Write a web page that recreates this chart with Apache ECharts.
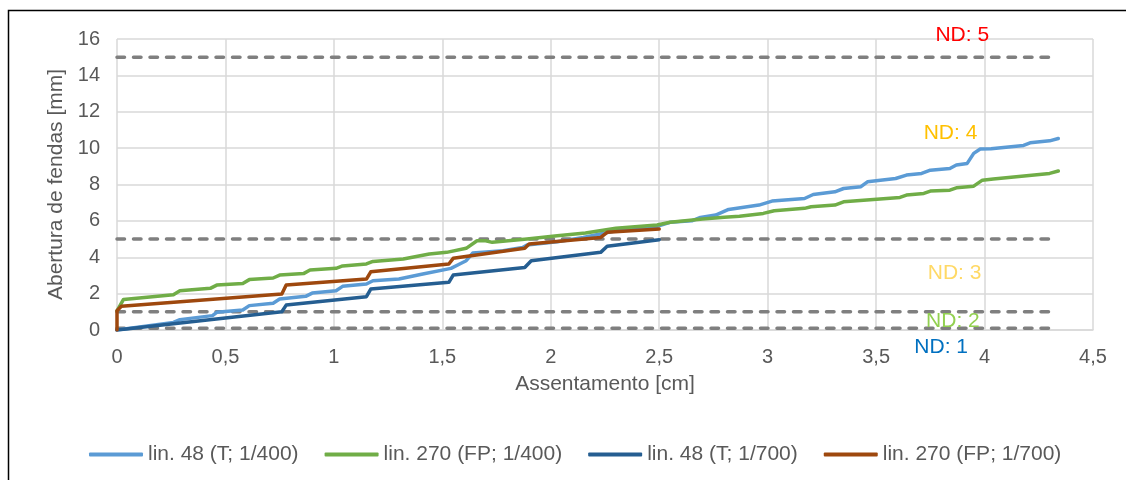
<!DOCTYPE html>
<html>
<head>
<meta charset="utf-8">
<script src="https://cdn.jsdelivr.net/npm/echarts@6/dist/echarts.min.js"></script>
<style>
  html, body { margin: 0; padding: 0; background: #fff; }
  #chart { width: 1126px; height: 480px; }
</style>
</head>
<body>
<div id="chart"></div>
<script>
// Crack width vs. settlement, four monitored lines
const seriesNames = ['lin. 48 (T; 1/400)', 'lin. 270 (FP; 1/400)', 'lin. 48 (T; 1/700)', 'lin. 270 (FP; 1/700)'];
const seriesColors = ['#5B9BD5', '#70AD47', '#255E91', '#9E480E'];

const lin48_400 = [
  [0, 0], [0.26, 0.42], [0.29, 0.57], [0.44, 0.79], [0.46, 0.97], [0.58, 1.1], [0.61, 1.34],
  [0.72, 1.47], [0.75, 1.7], [0.87, 1.85], [0.9, 2.03], [1.01, 2.16], [1.04, 2.4], [1.15, 2.53],
  [1.18, 2.71], [1.3, 2.8], [1.41, 3.08], [1.54, 3.39], [1.58, 3.63], [1.61, 3.81], [1.64, 4.23],
  [1.78, 4.36], [1.87, 4.54], [1.89, 4.67], [2.03, 4.85], [2.15, 5.09], [2.3, 5.46], [2.49, 5.7],
  [2.55, 5.92], [2.65, 6.0], [2.69, 6.19], [2.76, 6.32], [2.82, 6.63], [2.96, 6.87], [3.02, 7.09],
  [3.17, 7.23], [3.21, 7.45], [3.31, 7.6], [3.35, 7.78], [3.43, 7.88], [3.46, 8.15], [3.59, 8.33],
  [3.64, 8.52], [3.71, 8.61], [3.75, 8.79], [3.84, 8.88], [3.87, 9.07], [3.92, 9.16], [3.95, 9.71],
  [3.98, 9.95], [4.03, 9.96], [4.18, 10.15], [4.21, 10.29], [4.3, 10.4], [4.34, 10.53]
];
const lin270_400 = [
  [0, 1.05], [0.03, 1.68], [0.26, 1.94], [0.29, 2.16], [0.43, 2.29], [0.46, 2.47], [0.58, 2.56],
  [0.61, 2.77], [0.72, 2.86], [0.75, 3.02], [0.86, 3.1], [0.89, 3.3], [1.01, 3.39], [1.04, 3.52],
  [1.15, 3.63], [1.18, 3.77], [1.32, 3.9], [1.44, 4.18], [1.52, 4.27], [1.61, 4.49], [1.66, 4.91],
  [1.7, 4.91], [1.73, 4.82], [1.89, 5.0], [2.03, 5.18], [2.16, 5.33], [2.3, 5.59], [2.49, 5.77],
  [2.55, 5.92], [2.7, 6.1], [2.8, 6.2], [2.87, 6.26], [2.98, 6.41], [3.03, 6.56], [3.17, 6.69],
  [3.2, 6.78], [3.31, 6.87], [3.35, 7.05], [3.61, 7.29], [3.64, 7.42], [3.72, 7.51], [3.75, 7.64],
  [3.84, 7.69], [3.87, 7.82], [3.95, 7.91], [3.99, 8.24], [4.04, 8.3], [4.3, 8.61], [4.34, 8.74]
];
const lin48_700 = [
  [0, 0], [0.76, 1.0], [0.78, 1.37], [1.15, 1.83], [1.17, 2.25], [1.53, 2.62], [1.55, 3.02],
  [1.88, 3.44], [1.91, 3.81], [2.23, 4.27], [2.26, 4.6], [2.5, 4.96]
];
const lin270_700 = [
  [0, 0], [0, 1.06], [0.02, 1.3], [0.76, 1.98], [0.78, 2.47], [1.15, 2.8], [1.17, 3.2],
  [1.53, 3.63], [1.55, 3.94], [1.88, 4.49], [1.9, 4.73], [2.23, 5.09], [2.26, 5.37], [2.5, 5.55]
];

// Damage-level thresholds (mm) and their labels
const ndLevels = [0.1, 1, 5, 15];
const ndLevelEnd = 4.3;
const ndLabels = ['ND: 1', 'ND: 2', 'ND: 3', 'ND: 4', 'ND: 5'];
const ndLabelX = [3.8, 3.854, 3.862, 3.843, 3.897];
const ndLabelY = [-0.97, 0.49, 3.15, 10.81, 16.22];
const ndColors = ['#0070C0', '#92D050', '#FFD966', '#FFC000', '#FF0000'];

const xTicks = { min: 0, max: 4.5, step: 0.5 };
const yTicks = { min: 0, max: 16, step: 2 };

const FONT = '"Liberation Sans", Arial, sans-serif';
const TEXT = '#595959';
const GRID = '#D9D9D9';

const chart = echarts.init(document.getElementById('chart'));

const dataSeries = [lin48_400, lin270_400, lin48_700, lin270_700].map((d, i) => ({
  name: seriesNames[i],
  type: 'line',
  data: d,
  showSymbol: false,
  symbol: 'none',
  lineStyle: { color: seriesColors[i], width: 3.5, join: 'round', cap: 'round' },
  itemStyle: { color: seriesColors[i] },
  z: 3 + i,
  animation: false
}));

const levelSeries = ndLevels.map((v, i) => ({
  name: 'nd-level-' + i,
  type: 'line',
  data: [[0, v], [ndLevelEnd, v]],
  showSymbol: false,
  symbol: 'none',
  lineStyle: { color: '#7F7F7F', width: 3.5, type: [7.5, 9], cap: 'round' },
  z: 2,
  silent: true,
  animation: false
}));

const labelSeries = {
  name: 'nd-labels',
  type: 'scatter',
  symbolSize: 0,
  clip: false,
  silent: true,
  z: 10,
  animation: false,
  itemStyle: { opacity: 1 },
  data: ndLabels.map((t, i) => ({
    value: [ndLabelX[i], ndLabelY[i]],
    label: {
      show: true,
      position: 'inside',
      formatter: t,
      color: ndColors[i],
      opacity: 1,
      fontSize: 21,
      fontFamily: FONT
    }
  }))
};

chart.setOption({
  backgroundColor: '#ffffff',
  animation: false,
  textStyle: { fontFamily: FONT },
  graphic: [{
    type: 'polyline',
    shape: { points: [[8.5, 480], [8.5, 10.5], [1126, 10.5]] },
    style: { fill: 'none', stroke: '#000000', lineWidth: 1.5 },
    silent: true
  }],
  grid: { left: 117, right: 33, top: 39, bottom: 150, containLabel: false },
  legend: {
    data: seriesNames,
    left: 89,
    top: 444,
    padding: 0,
    itemWidth: 54,
    itemHeight: 4,
    itemGap: 26,
    icon: 'roundRect',
    textStyle: { color: TEXT, fontSize: 21, fontFamily: FONT }
  },
  xAxis: {
    type: 'value',
    min: xTicks.min,
    max: xTicks.max,
    interval: xTicks.step,
    name: 'Assentamento [cm]',
    nameLocation: 'middle',
    nameGap: 44,
    nameTextStyle: { color: TEXT, fontSize: 21, fontFamily: FONT },
    axisLine: { show: true, lineStyle: { color: GRID, width: 1.5 } },
    axisTick: { show: false },
    axisLabel: {
      color: TEXT, fontSize: 20, fontFamily: FONT, margin: 17,
      formatter: v => String(v).replace('.', ',')
    },
    splitLine: { show: true, lineStyle: { color: GRID, width: 1.5 } }
  },
  yAxis: {
    type: 'value',
    min: yTicks.min,
    max: yTicks.max,
    interval: yTicks.step,
    name: 'Abertura de fendas [mm]',
    nameLocation: 'middle',
    nameGap: 50,
    nameTextStyle: { color: TEXT, fontSize: 21, fontFamily: FONT },
    axisLine: { show: false },
    axisTick: { show: false },
    axisLabel: { color: TEXT, fontSize: 20, fontFamily: FONT, margin: 17 },
    splitLine: { show: true, lineStyle: { color: GRID, width: 1.5 } }
  },
  series: [...levelSeries, ...dataSeries, labelSeries]
});
</script>
</body>
</html>
